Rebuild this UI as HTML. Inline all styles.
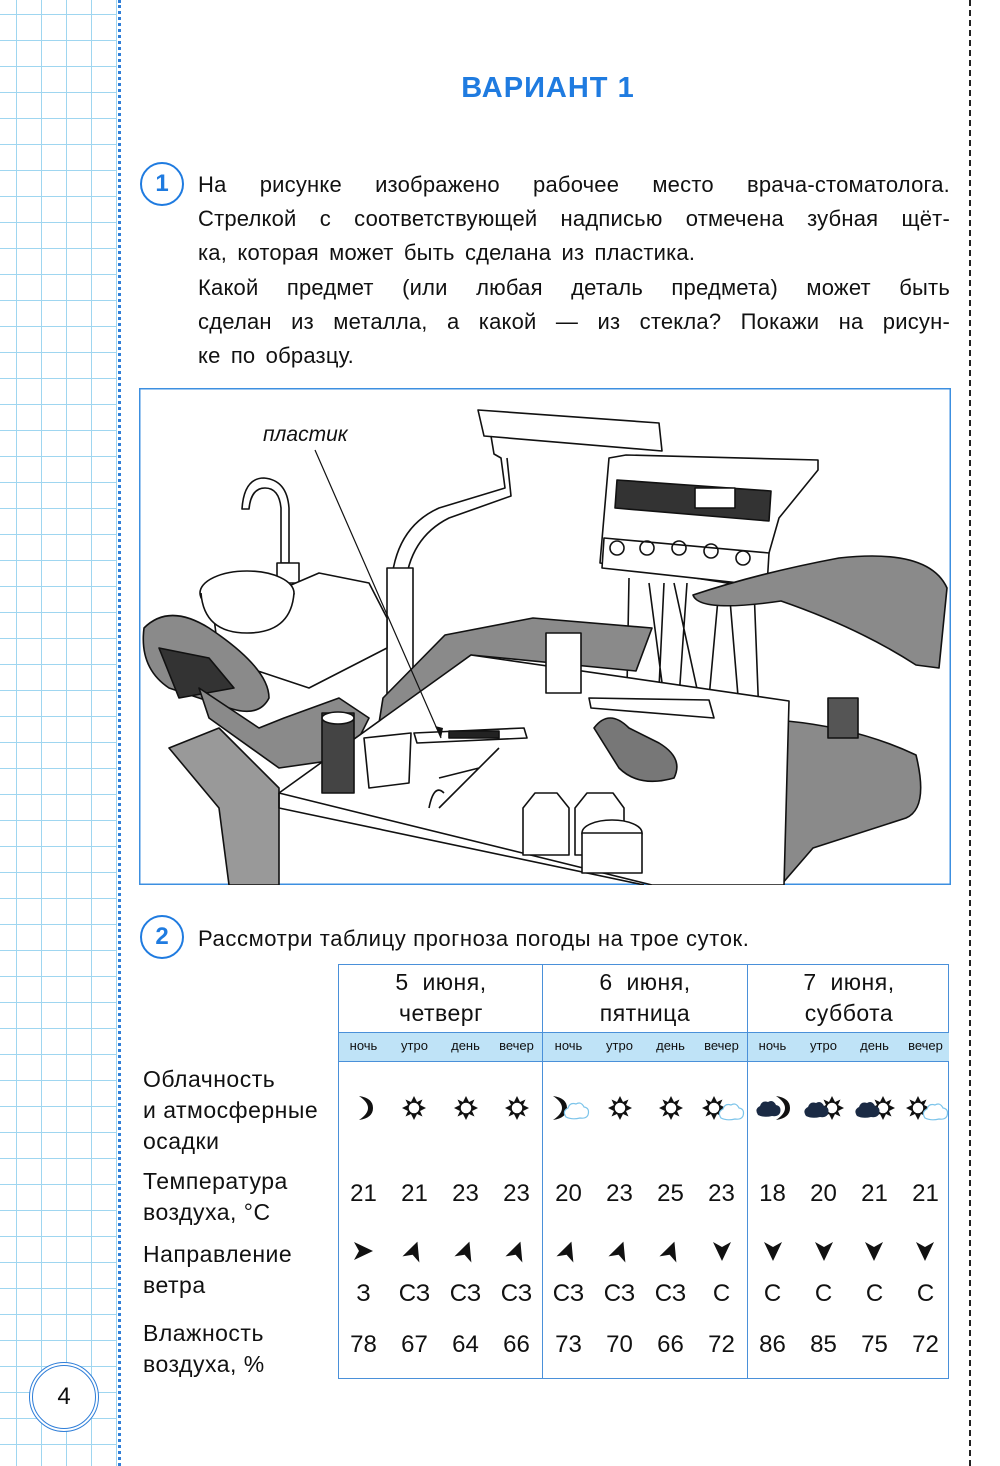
<!DOCTYPE html>
<html><head><meta charset="utf-8"><style>
body{margin:0;width:1000px;height:1466px;position:relative;background:#fff;font-family:"Liberation Sans","DejaVu Sans",sans-serif;color:#111;overflow:hidden}
.a{position:absolute;white-space:nowrap}
.grid{position:absolute;left:0;top:0;width:117px;height:1466px;
background-image:linear-gradient(to right,#9fd6f0 1.2px,transparent 1.2px),linear-gradient(to bottom,#9fd6f0 1.2px,transparent 1.2px);
background-size:25px 26px;background-position:16px 14px}
.p{position:absolute;left:198px;width:752px;font-size:22px;line-height:34px;text-align:justify;text-align-last:justify;letter-spacing:0.2px}
.c{position:absolute;width:40px;height:40px;border:2.5px solid #1f7be0;border-radius:50%;text-align:center;line-height:40px;font-size:24px;color:#1f7be0;font-weight:bold}
.lbl{position:absolute;left:143px;font-size:23px;line-height:31px;letter-spacing:0.5px}
.n{position:absolute;width:51px;text-align:center;font-size:24px;line-height:30px}
.s{position:absolute;width:51px;text-align:center;font-size:13px;line-height:28px;top:1032px}
.h{position:absolute;width:204px;text-align:center;font-size:23px;line-height:31px;top:967px;letter-spacing:0.5px}
</style></head><body>
<div class="grid"></div>
<div style="position:absolute;left:118px;top:0;height:1466px;border-left:3px dotted #2f7ed8"></div>
<div style="position:absolute;left:969px;top:0;height:1466px;border-left:2px dashed #222"></div>

<div class="a" style="left:0;width:1096px;text-align:center;top:72px;font-size:29px;font-weight:bold;color:#1f7be0;letter-spacing:1px">ВАРИАНТ 1</div>

<div class="c" style="left:140px;top:162px">1</div>
<div class="p" style="top:168px">На рисунке изображено рабочее место врача-стоматолога.</div>
<div class="p" style="top:202px">Стрелкой с соответствующей надписью отмечена зубная щёт-</div>
<div class="p" style="top:236px;width:auto;text-align-last:auto;word-spacing:4px">ка, которая может быть сделана из пластика.</div>
<div class="p" style="top:271px">Какой предмет (или любая деталь предмета) может быть</div>
<div class="p" style="top:305px">сделан из металла, а какой — из стекла? Покажи на рисун-</div>
<div class="p" style="top:339px;width:auto;text-align-last:auto;word-spacing:4px">ке по образцу.</div>

<svg style="position:absolute;left:139px;top:388px" width="812" height="497" viewBox="0 0 812 497">
<rect x="0.75" y="0.75" width="810.5" height="495.5" fill="#fff" stroke="#3c8fe0" stroke-width="1.5"/>
<g stroke="#111" stroke-width="1.6" fill="none" stroke-linejoin="round">
<path d="M339 22 L520 35 L523 63 L345 48 Z" fill="#fff"/>
<path d="M352 48 L355 66 L362 70 L366 100 L300 120 Q255 140 252 200 L252 320 L266 320 L266 200 Q270 150 310 130 L372 108 L368 70" fill="#fff"/>
<rect x="248" y="180" width="26" height="150" fill="#fff"/>
<path d="M103 121 Q105 90 125 90 Q148 92 150 120 L150 175 L142 175 L142 120 Q140 100 126 100 Q112 100 110 121 Z" fill="#fff"/>
<rect x="138" y="175" width="22" height="20" fill="#fff"/>
<path d="M75 230 L180 185 L230 195 L248 230 L248 260 L170 300 L80 270 Z" fill="#fff"/>
<ellipse cx="108" cy="205" rx="47" ry="22" fill="#fff"/>
<path d="M62 205 Q65 245 108 245 Q152 245 155 205" fill="#fff"/>
<path d="M487 67 L679 72 L679 82 L640 130 L620 200 L461 175 L470 70 Z" fill="#fff"/>
<path d="M478 92 L632 103 L630 133 L476 120 Z" fill="#333"/>
<rect x="556" y="100" width="40" height="20" fill="#fff"/>
<path d="M465 150 L630 165 L628 198 L463 180 Z" fill="#fff"/>
<circle cx="478" cy="160" r="7"/><circle cx="508" cy="160" r="7"/><circle cx="540" cy="160" r="7"/><circle cx="572" cy="163" r="7"/><circle cx="604" cy="170" r="7"/>
<path d="M490 190 L488 300 M510 195 L525 310 M525 195 L520 300 M535 195 L560 310 M548 195 L540 310 M580 200 L570 310 M590 200 L600 320 M615 200 L620 330"/>
<path d="M244 310 L306 247 L394 230 L513 240 L497 283 L332 267 L240 335 Z" fill="#8a8a8a"/>
<path d="M554 207 Q620 185 700 170 Q790 160 808 200 L800 280 L777 277 Q720 240 642 213 Q560 225 554 207 Z" fill="#8a8a8a"/>
<path d="M648 333 Q720 340 777 367 Q790 420 767 430 L674 460 L642 497 L630 497 Z" fill="#8a8a8a"/>
<rect x="689" y="310" width="30" height="40" fill="#555"/>
<path d="M5 240 Q30 215 70 240 Q130 280 130 310 Q120 330 90 320 L30 300 Q0 280 5 240 Z" fill="#8a8a8a"/>
<path d="M20 260 L70 270 L95 300 L40 310 Z" fill="#333"/>
<path d="M60 300 L120 340 L145 330 L200 310 L230 330 L210 370 L140 380 L70 330 Z" fill="#8a8a8a"/>
<path d="M30 360 L80 340 L140 400 L140 497 L90 497 L80 420 Z" fill="#999"/>
<path d="M140 405 L332 267 L650 313 L645 497 L513 497 Z" fill="#fff"/>
<path d="M140 405 L140 420 L505 497"/>
<rect x="183" y="325" width="32" height="80" fill="#444"/>
<ellipse cx="199" cy="330" rx="16" ry="6" fill="#fff"/>
<path d="M225 350 L272 345 L270 395 L230 400 Z" fill="#fff"/>
<path d="M275 345 L385 340 L388 350 L278 355 Z" fill="#fff"/>
<path d="M310 343 L360 343 L360 350 L310 350 Z" fill="#222"/>
<rect x="407" y="245" width="35" height="60" fill="#fff"/>
<path d="M384 420 L384 467 L430 467 L430 420 L418 405 L396 405 Z" fill="#fff"/>
<path d="M436 420 L436 467 L485 467 L485 420 L474 405 L448 405 Z" fill="#fff"/>
<ellipse cx="473" cy="445" rx="30" ry="13" fill="#fff"/>
<rect x="443" y="445" width="60" height="40" fill="#fff"/>
<path d="M450 310 L570 312 L575 330 L452 320 Z" fill="#fff"/>
<path d="M455 340 Q470 320 490 340 L520 355 Q545 370 535 390 Q500 400 480 380 Z" fill="#777"/>
<path d="M300 390 L340 380 M300 420 L360 360 M290 420 Q295 395 305 405"/>
</g>
<path d="M176 62 L302 350" stroke="#111" stroke-width="1.2"/>
<path d="M302 350 L296 338 L304 340 Z" fill="#111"/>
<text x="124" y="53" font-family="Liberation Sans,sans-serif" font-style="italic" font-size="21" fill="#111">пластик</text>
</svg>

<div class="c" style="left:140px;top:915px">2</div>
<div class="a" style="left:198px;top:922px;font-size:22px;line-height:34px;letter-spacing:0.6px">Рассмотри таблицу прогноза погоды на трое суток.</div>

<div style="position:absolute;left:338px;top:964px;width:611px;height:415px;border:1.5px solid #4a90d9;box-sizing:border-box"></div>
<div style="position:absolute;left:339px;top:1032px;width:610px;height:28px;background:#bfe3f7;border-top:1.5px solid #4a90d9;border-bottom:1.5px solid #4a90d9"></div>
<div style="position:absolute;left:542px;top:964px;height:415px;border-left:1.5px solid #4a90d9"></div>
<div style="position:absolute;left:747px;top:964px;height:415px;border-left:1.5px solid #4a90d9"></div>

<div class="h" style="left:339px">5 &nbsp;июня,<br>четверг</div>
<div class="h" style="left:543px">6 &nbsp;июня,<br>пятница</div>
<div class="h" style="left:747px">7 &nbsp;июня,<br>суббота</div>

<div class="s" style="left:338px">ночь</div><div class="s" style="left:389px">утро</div><div class="s" style="left:440px">день</div><div class="s" style="left:491px">вечер</div>
<div class="s" style="left:543px">ночь</div><div class="s" style="left:594px">утро</div><div class="s" style="left:645px">день</div><div class="s" style="left:696px">вечер</div>
<div class="s" style="left:747px">ночь</div><div class="s" style="left:798px">утро</div><div class="s" style="left:849px">день</div><div class="s" style="left:900px">вечер</div>

<div class="lbl" style="top:1064px">Облачность<br>и атмосферные<br>осадки</div>
<div class="lbl" style="top:1166px">Температура<br>воздуха, °C</div>
<div class="lbl" style="top:1239px">Направление<br>ветра</div>
<div class="lbl" style="top:1318px">Влажность<br>воздуха, %</div>

<svg style="position:absolute;left:0;top:0" width="1000" height="1466">
<defs>
<g id="sun"><polygon points="0,-12 3,-6 8.5,-8.5 6,-3 12,0 6,3 8.5,8.5 3,6 0,12 -3,6 -8.5,8.5 -6,3 -12,0 -6,-3 -8.5,-8.5 -3,-6" fill="#111"/><circle r="6" fill="#fff" stroke="#111" stroke-width="1.5"/></g>
<path id="moon" d="M-4,-12 Q10,-10 10,0 Q10,10 -4,12 Q5,6 5,0 Q5,-6 -4,-12 Z" fill="#111"/>
<path id="cl" d="M-10,6 Q-14,0 -8,-3 Q-6,-9 0,-7 Q5,-10 8,-4 Q14,-3 12,4 Q10,8 4,7 Q-4,9 -10,6 Z"/>
<polygon id="arr" points="-9,-9 10,0 -9,9 -4,0" fill="#111"/>
</defs>
<use href="#moon" x="363" y="1108"/>
<use href="#sun" x="414" y="1108"/><use href="#sun" x="466" y="1108"/><use href="#sun" x="517" y="1108"/>
<use href="#moon" x="557" y="1108"/><use href="#cl" x="576" y="1111" fill="#fff" stroke="#7cc4ea" stroke-width="1.2"/>
<use href="#sun" x="620" y="1108"/><use href="#sun" x="671" y="1108"/>
<use href="#sun" x="714" y="1108"/><use href="#cl" x="731" y="1112" fill="#fff" stroke="#7cc4ea" stroke-width="1.2"/>
<use href="#cl" x="768" y="1109" fill="#1a2a44"/><use href="#moon" x="780" y="1108"/>
<use href="#sun" x="832" y="1108"/><use href="#cl" x="816" y="1110" fill="#1a2a44"/>
<use href="#sun" x="883" y="1108"/><use href="#cl" x="867" y="1110" fill="#1a2a44"/>
<use href="#sun" x="918" y="1108"/><use href="#cl" x="935" y="1112" fill="#fff" stroke="#7cc4ea" stroke-width="1.2"/>

<use href="#arr" transform="translate(363,1251)"/>
<use href="#arr" transform="translate(414,1251) rotate(-70)"/>
<use href="#arr" transform="translate(466,1251) rotate(-70)"/>
<use href="#arr" transform="translate(517,1251) rotate(-70)"/>
<use href="#arr" transform="translate(568,1251) rotate(-70)"/>
<use href="#arr" transform="translate(620,1251) rotate(-70)"/>
<use href="#arr" transform="translate(671,1251) rotate(-70)"/>
<use href="#arr" transform="translate(722,1251) rotate(90)"/>
<use href="#arr" transform="translate(773,1251) rotate(90)"/>
<use href="#arr" transform="translate(824,1251) rotate(90)"/>
<use href="#arr" transform="translate(874,1251) rotate(90)"/>
<use href="#arr" transform="translate(925,1251) rotate(90)"/>
</svg>

<div class="n" style="left:338px;top:1179px">21</div><div class="n" style="left:389px;top:1179px">21</div><div class="n" style="left:440px;top:1179px">23</div><div class="n" style="left:491px;top:1179px">23</div>
<div class="n" style="left:543px;top:1179px">20</div><div class="n" style="left:594px;top:1179px">23</div><div class="n" style="left:645px;top:1179px">25</div><div class="n" style="left:696px;top:1179px">23</div>
<div class="n" style="left:747px;top:1179px">18</div><div class="n" style="left:798px;top:1179px">20</div><div class="n" style="left:849px;top:1179px">21</div><div class="n" style="left:900px;top:1179px">21</div>

<div class="n" style="left:338px;top:1279px">З</div><div class="n" style="left:389px;top:1279px">СЗ</div><div class="n" style="left:440px;top:1279px">СЗ</div><div class="n" style="left:491px;top:1279px">СЗ</div>
<div class="n" style="left:543px;top:1279px">СЗ</div><div class="n" style="left:594px;top:1279px">СЗ</div><div class="n" style="left:645px;top:1279px">СЗ</div><div class="n" style="left:696px;top:1279px">С</div>
<div class="n" style="left:747px;top:1279px">С</div><div class="n" style="left:798px;top:1279px">С</div><div class="n" style="left:849px;top:1279px">С</div><div class="n" style="left:900px;top:1279px">С</div>

<div class="n" style="left:338px;top:1330px">78</div><div class="n" style="left:389px;top:1330px">67</div><div class="n" style="left:440px;top:1330px">64</div><div class="n" style="left:491px;top:1330px">66</div>
<div class="n" style="left:543px;top:1330px">73</div><div class="n" style="left:594px;top:1330px">70</div><div class="n" style="left:645px;top:1330px">66</div><div class="n" style="left:696px;top:1330px">72</div>
<div class="n" style="left:747px;top:1330px">86</div><div class="n" style="left:798px;top:1330px">85</div><div class="n" style="left:849px;top:1330px">75</div><div class="n" style="left:900px;top:1330px">72</div>

<div style="position:absolute;left:29px;top:1362px;width:62px;height:62px;border:4px double #2f7ed8;border-radius:50%;background:#fff;text-align:center;line-height:62px;font-size:24px">4</div>
</body></html>
